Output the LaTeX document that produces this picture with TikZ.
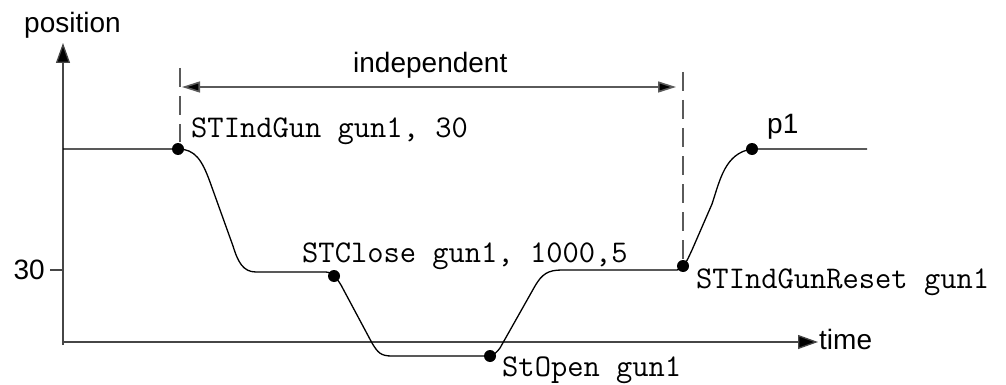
\documentclass[tikz,border=0pt]{standalone}
\usepackage{fontspec}
\setmainfont{Liberation Sans}
\usetikzlibrary{arrows.meta}
\definecolor{axisgray}{RGB}{70,70,70}
\definecolor{dashgray}{RGB}{90,90,90}
\begin{document}
\begin{tikzpicture}[x=1pt,y=-1pt,
  axisline/.style={draw=axisgray,line width=1.3pt},
  curveline/.style={draw=black,line width=1.3pt},
  guide/.style={draw=dashgray,line width=1.2pt,dash pattern=on 19pt off 9pt},
  spanarrow/.style={draw=dashgray,line width=1.6pt,{Triangle[length=18pt,width=11pt,fill=black]}-{Triangle[length=18pt,width=11pt,fill=black]}},
  axistip/.style={-{Triangle[length=20pt,width=14pt,fill=black]}},
  dotpt/.style={circle,fill=black,inner sep=0pt,minimum size=12pt},
  sanslabel/.style={inner sep=0pt,font=\fontsize{28}{32}\selectfont},
  codelabel/.style={inner sep=0pt,font=\ttfamily\fontsize{31.6}{34}\selectfont}]
\useasboundingbox (0,0) rectangle (1006,385);
% axes
\coordinate (yb) at (63,345);
\coordinate (yt) at (63,43);
\coordinate (xl) at (63,342);
\coordinate (xr) at (818,342);
\draw[axisline,axistip] (yb) -- (yt);
\draw[axisline,axistip] (xl) -- (xr);
\coordinate (tk1) at (50,270);
\coordinate (tk2) at (63,270);
\draw[axisline] (tk1) -- (tk2);
\node[sanslabel,anchor=base west] (lpos) at (24,33) {position};
\node[sanslabel,anchor=base west] (ltime) at (819,349) {time};
\node[sanslabel,anchor=base east] (l30) at (45,279) {30};
% dots
\node[dotpt] (dA) at (178,149) {};
\node[dotpt] (dB) at (334,276) {};
\node[dotpt] (dC) at (490,356) {};
\node[dotpt] (dD) at (683,266) {};
\node[dotpt] (dE) at (752,149) {};
\coordinate (start) at (63,149);
\coordinate (finish) at (867,149);
% curve
\draw[curveline] (start) -- (dA.center)
  .. controls (195,149) and (202,160) .. (210,182)
  -- (233,246) .. controls (238,262) and (243,272) .. (256,272)
  -- (325,272) .. controls (329,272) and (331,273) .. (dB.center)
  .. controls (336,278) and (338,280) .. (341,285)
  -- (372,343) .. controls (378,353) and (381,356) .. (392,356)
  -- (dC.center)
  .. controls (494,355) and (497,352) .. (500,348)
  -- (535,286) .. controls (542,274) and (548,270) .. (562,270)
  -- (677,270) .. controls (680,270) and (682,268) .. (dD.center)
  .. controls (687,262) and (689,256) .. (692,250)
  -- (712,204) .. controls (720,180) and (725,153) .. (dE.center)
  -- (finish);
% guides
\coordinate (g1t) at (180,68);
\coordinate (g1b) at (180,142);
\coordinate (g2t) at (683,72);
\coordinate (g2b) at (683,262);
\draw[guide] (g1t) -- (g1b);
\draw[guide] (g2t) -- (g2b);
\coordinate (aL) at (182,87);
\coordinate (aR) at (676,87);
\draw[spanarrow] (aL) -- (aR);
\node[sanslabel,anchor=base west] (lind) at (353,73) {independent};
\node[sanslabel,anchor=base west] (lp1) at (767,133) {p1};
% code labels
\node[codelabel,anchor=base west] (c1) at (191,138) {STIndGun gun1, 30};
\node[codelabel,anchor=base west] (c2) at (302,262) {STClose gun1, 1000,5};
\node[codelabel,anchor=base west] (c3) at (696,288) {STIndGunReset gun1};
\node[codelabel,anchor=base west] (c4) at (502,376) {StOpen gun1};
\end{tikzpicture}
\end{document}
